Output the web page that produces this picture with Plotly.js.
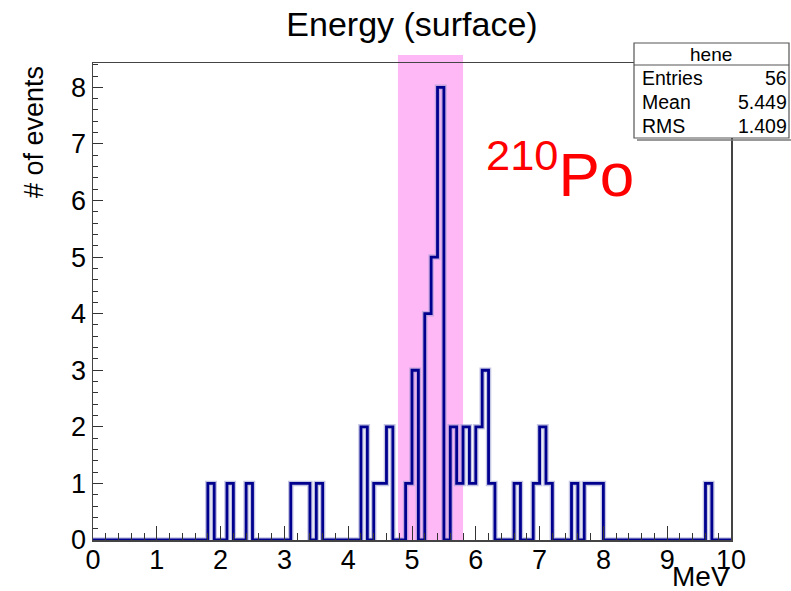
<!DOCTYPE html>
<html>
<head>
<meta charset="utf-8">
<script src="https://cdn.plot.ly/plotly-3.0.1.min.js"></script>
<style>html,body{margin:0;padding:0;background:#fff;}#chart{width:791px;height:591px;}</style>
</head>
<body>
<div id="chart"></div>
<script>
// ---- data (bin width 0.1 MeV, 0..10 MeV) ----
const binLowEdges = [1.8, 2.1, 2.4, 3.1, 3.2, 3.3, 3.5, 4.2, 4.4, 4.5, 4.6, 4.9, 5.0, 5.2, 5.3, 5.4,
                     5.6, 5.7, 5.8, 5.9, 6.0, 6.1, 6.2, 6.6, 6.9, 7.0, 7.1, 7.5, 7.7, 7.8, 7.9, 9.6];
const binCounts   = [1,   1,   1,   1,   1,   1,   1,   2,   1,   1,   2,   1,   3,   4,   5,   8,
                     2,   1,   2,   1,   2,   3,   1,   1,   1,   2,   1,   1,   1,   1,   1,   1];
const histMin = 0, histMax = 10, nBins = 100;
const xTickVals = [0,1,2,3,4,5,6,7,8,9,10];
const yTickVals = [0,1,2,3,4,5,6,7,8];
const statsTitle = "hene";
const statsLabels = ["Entries", "Mean", "RMS"];
const statsValues = ["56", "5.449", "1.409"];
const poBand = [4.78, 5.80];

// build full step outline from the bins
const width = (histMax - histMin) / nBins;
const full = new Array(nBins).fill(0);
binLowEdges.forEach((e, i) => { full[Math.round((e - histMin) / width)] = binCounts[i]; });
const xs = [], ys = [];
for (let i = 0; i < nBins; i++) { xs.push(+(histMin + i * width).toFixed(4)); ys.push(full[i]); }
xs.push(histMax); ys.push(full[nBins - 1]);

const FONT = "Liberation Sans, Arial, sans-serif";

const halo = {x: xs, y: ys, type: "scatter", mode: "lines", line: {shape: "hv", color: "rgba(150,150,205,0.55)", width: 5.5},
  hoverinfo: "skip", showlegend: false, cliponaxis: false};
const hist = {x: xs, y: ys, type: "scatter", mode: "lines", line: {shape: "hv", color: "#00008f", width: 2.8},
  showlegend: false, cliponaxis: false};

// pixel helpers for overlay placement (plot area: x 93..731, y 63..540)
const L = 93, R = 731, T = 63, B = 540;
const px = v => (v - L) / (R - L);
const py = v => (B - v) / (B - T);

const annotations = [
  {xref: "paper", yref: "paper", x: px(34), y: py(64), xanchor: "center", yanchor: "top", textangle: -90,
   text: "# of events", showarrow: false, font: {family: FONT, size: 27, color: "#000"}},
  {xref: "paper", yref: "paper", x: px(732), y: py(576), xanchor: "right", yanchor: "middle",
   text: "MeV", showarrow: false, font: {family: FONT, size: 28, color: "#000"}},
  {xref: "paper", yref: "paper", x: px(484), y: py(170), xanchor: "left", yanchor: "middle",
   text: "<sup>210</sup>Po", showarrow: false, font: {family: FONT, size: 62, color: "#ff0000"}},
  {xref: "paper", yref: "paper", x: px(711), y: py(54), xanchor: "center", yanchor: "middle",
   text: statsTitle, showarrow: false, font: {family: FONT, size: 19, color: "#000"}}
];
const rowsY = [78, 102, 126];
statsLabels.forEach((lab, i) => {
  annotations.push({xref: "paper", yref: "paper", x: px(640), y: py(rowsY[i]), xanchor: "left", yanchor: "middle",
    text: lab, showarrow: false, font: {family: FONT, size: 19.5, color: "#000"}});
  annotations.push({xref: "paper", yref: "paper", x: px(789), y: py(rowsY[i]), xanchor: "right", yanchor: "middle",
    text: statsValues[i], showarrow: false, font: {family: FONT, size: 19.5, color: "#000"}});
});

const layout = {
  width: 791, height: 591,
  margin: {l: L, r: 791 - R, t: T, b: 591 - B, pad: 0},
  paper_bgcolor: "#ffffff", plot_bgcolor: "rgba(0,0,0,0)",
  title: {text: "Energy (surface)", x: 0.5, xref: "paper", xanchor: "center", y: 1 - 24 / 591, yanchor: "middle",
          font: {family: FONT, size: 34, color: "#000"}},
  xaxis: {range: [histMin, histMax], tickvals: xTickVals, ticks: "inside", ticklen: 14, tickwidth: 1, tickcolor: "#333",
          minor: {dtick: 0.2, ticks: "inside", ticklen: 7, tickwidth: 1, tickcolor: "#333"},
          showgrid: false, zeroline: false, showline: true, mirror: true, linecolor: "#444", linewidth: 1.5,
          tickfont: {family: FONT, size: 27, color: "#000"}, ticklabelstandoff: -5, fixedrange: true},
  yaxis: {range: [0, 8.43], tickvals: yTickVals, ticks: "inside", ticklen: 10, tickwidth: 1, tickcolor: "#333",
          minor: {dtick: 0.2, ticks: "inside", ticklen: 5, tickwidth: 1, tickcolor: "#333"},
          showgrid: false, zeroline: false, showline: true, mirror: true, linecolor: "#444", linewidth: 1.5,
          tickfont: {family: FONT, size: 27, color: "#000"}, ticklabelstandoff: 0, fixedrange: true},
  shapes: [
    {type: "rect", xref: "x", yref: "paper", x0: poBand[0], x1: poBand[1], y0: 0, y1: py(55), layer: "below",
     fillcolor: "#ffb8f6", line: {width: 0}},
    {type: "rect", xref: "paper", yref: "paper", x0: px(634), x1: px(789), y0: py(138), y1: py(43), layer: "above",
     fillcolor: "#ffffff", line: {color: "#555", width: 1.2}},
    {type: "line", xref: "paper", yref: "paper", x0: px(634), x1: px(789), y0: py(65), y1: py(65), layer: "above",
     line: {color: "#555", width: 1.2}},
    {type: "line", xref: "paper", yref: "paper", x0: px(637), x1: px(791), y0: py(140), y1: py(140), layer: "above",
     line: {color: "#777", width: 1.5}}
  ],
  annotations: annotations,
  showlegend: false
};

Plotly.newPlot("chart", [halo, hist], layout, {staticPlot: true, displayModeBar: false});
</script>
</body>
</html>
